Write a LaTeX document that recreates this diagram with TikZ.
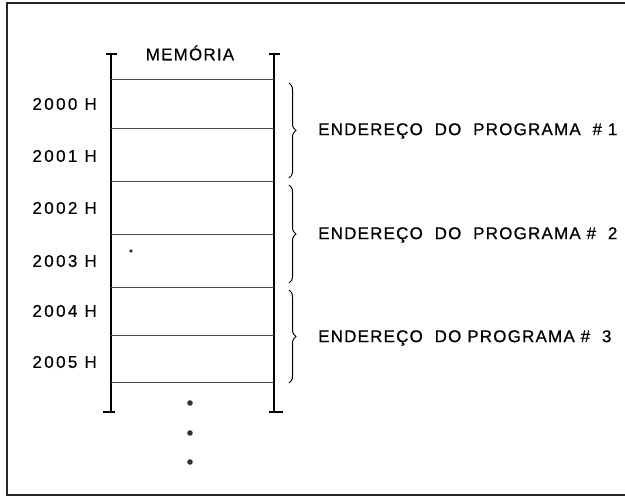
\documentclass[tikz,border=0pt]{standalone}
\usepackage{fontspec}
\setmainfont{Liberation Sans}
\newfontfamily\lblfont[LetterSpace=7,FakeBold=0.6]{Liberation Sans}
\newfontfamily\adrfont[LetterSpace=14,FakeBold=0.6]{Liberation Sans}
\usetikzlibrary{decorations.pathreplacing}
\begin{document}
\begin{tikzpicture}[x=1pt,y=-1pt,
  frame/.style={line width=1.3pt,black!85},
  wall/.style={line width=1.2pt,black},
  cell/.style={line width=1pt,black!70},
  lbl/.style={font=\lblfont\fontsize{17}{19}\selectfont,inner sep=0pt},
  adr/.style={font=\adrfont\fontsize{17}{19}\selectfont,inner sep=0pt,anchor=east},
  brc/.style={decorate,decoration={brace,amplitude=7pt},line width=1pt},
  dotc/.style={fill=black!80,draw=none}]
\useasboundingbox (0,0) rectangle (625,497);
% frame
\draw[frame] (625,3) -- (7,3) -- (7,495) -- (625,495);
% memory walls
\draw[wall] (111,54) -- (111,412);
\draw[wall] (274,54) -- (274,412);
\draw[wall] (106,54) -- (117,54);
\draw[wall] (269,54) -- (280,54);
\draw[wall] (103,412) -- (115,412);
\draw[wall] (269,412) -- (283,412);
% cells
\foreach \y in {80,129,182,235,288,336,383}
  \draw[cell] (111,\y) -- (274,\y);
\node[lbl] (mem) at (190,53) {MEMÓRIA};
% addresses
\node[adr] (a0) at (97,104) {2000 H};
\node[adr] (a1) at (97,156) {2001 H};
\node[adr] (a2) at (97,208) {2002 H};
\node[adr] (a3) at (97,261) {2003 H};
\node[adr] (a4) at (97,311) {2004 H};
\node[adr] (a5) at (97,362) {2005 H};
% braces
\draw[brc] (289,83) -- (289,178);
\draw[brc] (289,185) -- (289,283);
\draw[brc] (289,290) -- (289,383);
\node[lbl,anchor=west] (p1) at (318,131) {ENDEREÇO\ \ DO\ \ PROGRAMA\ \ \#\ 1};
\node[lbl,anchor=west] (p2) at (318,235) {ENDEREÇO\ \ DO\ \ PROGRAMA\ \#\ \ 2};
\node[lbl,anchor=west] (p3) at (318,338) {ENDEREÇO\ \ DO\ PROGRAMA\ \#\ \ 3};
% dots
\fill[dotc] (131,251) circle (1.8);
\fill[dotc] (190,403) circle (2.8);
\fill[dotc] (190,433) circle (2.8);
\fill[dotc] (190,462) circle (2.8);
\end{tikzpicture}
\end{document}
